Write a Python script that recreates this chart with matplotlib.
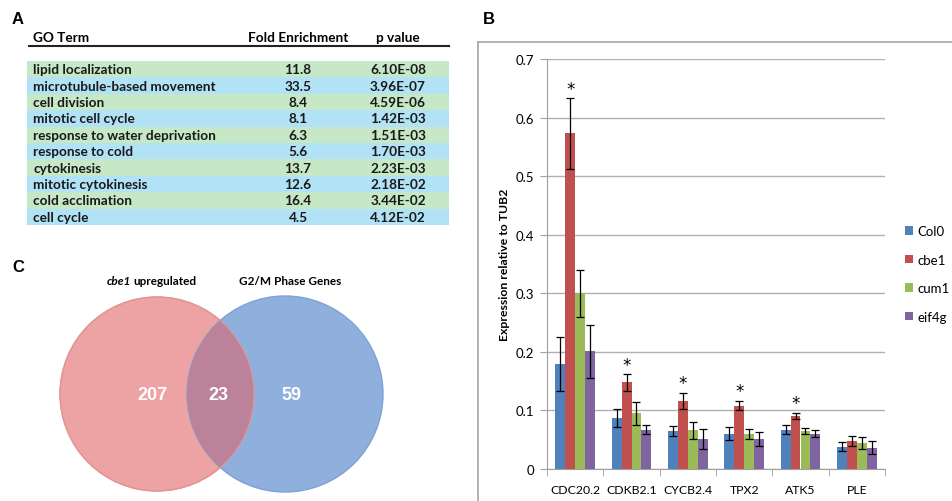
import matplotlib
matplotlib.use("Agg")
import matplotlib.pyplot as plt
from matplotlib.patches import Circle, Rectangle
import numpy as np

# ---- dados ----
go_terms = ['lipid localization', 'microtubule-based movement', 'cell division',
            'mitotic cell cycle', 'response to water deprivation', 'response to cold',
            'cytokinesis', 'mitotic cytokinesis', 'cold acclimation', 'cell cycle']
fold_enrichment = [11.8, 33.5, 8.4, 8.1, 6.3, 5.6, 13.7, 12.6, 16.4, 4.5]
p_values = ['6.10E-08', '3.96E-07', '4.59E-06', '1.42E-03', '1.51E-03',
            '1.70E-03', '2.23E-03', '2.18E-02', '3.44E-02', '4.12E-02']

genes = ['CDC20.2', 'CDKB2.1', 'CYCB2.4', 'TPX2', 'ATK5', 'PLE']
linhas = ['Col0', 'cbe1', 'cum1', 'eif4g']
col0 = [0.179, 0.087, 0.065, 0.060, 0.067, 0.038]
cbe1 = [0.573, 0.148, 0.116, 0.108, 0.091, 0.048]
cum1 = [0.300, 0.095, 0.066, 0.060, 0.065, 0.045]
eif4g = [0.201, 0.067, 0.051, 0.052, 0.060, 0.036]
col0_err = [0.046, 0.015, 0.008, 0.011, 0.008, 0.008]
cbe1_err = [0.060, 0.014, 0.014, 0.008, 0.005, 0.008]
cum1_err = [0.040, 0.020, 0.015, 0.008, 0.005, 0.010]
eif4g_err = [0.045, 0.008, 0.017, 0.012, 0.006, 0.011]
significativo = [True, True, True, True, True, False]

venn_labels = ['cbe1', 'upregulated', 'G2/M Phase Genes']
venn_counts = [207, 23, 59]

cores = ['#4F81BD', '#C0504D', '#9BBB59', '#8064A2']

fig = plt.figure(figsize=(9.52, 5.02), dpi=100)

# eixo de fundo em pixels (tabela, venn, moldura)
bg = fig.add_axes([0, 0, 1, 1])
bg.set_xlim(0, 952)
bg.set_ylim(502, 0)
bg.axis('off')

fonte = 'Lato'

# ---- A: tabela ----
bg.text(12, 19, 'A', fontsize=12, fontweight='bold', family='Liberation Sans', va='center')
bg.text(33, 38, 'GO Term', fontsize=9.8, fontweight='bold', family=fonte, va='center')
bg.text(298, 38, 'Fold Enrichment', fontsize=9.8, fontweight='bold', family=fonte, va='center', ha='center')
bg.text(398, 38, 'p value', fontsize=9.8, fontweight='bold', family=fonte, va='center', ha='center')
bg.plot([29, 449], [47, 47], color='#222222', lw=1.5)
row_h = 16.4
for i, (termo, fe, pv) in enumerate(zip(go_terms, fold_enrichment, p_values)):
    y0 = 62 + i * row_h
    cor = '#C6E8C6' if i % 2 == 0 else '#B2E2F6'
    bg.add_patch(Rectangle((27, y0), 422, row_h, color=cor, lw=0))
    yc = y0 + row_h / 2
    bg.text(33, yc, termo, fontsize=9.8, fontweight='bold', family=fonte, va='center', color='#1a1a1a')
    bg.text(298, yc, f'{fe}', fontsize=9.8, fontweight='bold', family=fonte, va='center', ha='center', color='#1a1a1a')
    bg.text(398, yc, pv, fontsize=9.8, fontweight='bold', family=fonte, va='center', ha='center', color='#1a1a1a')

# ---- C: venn ----
bg.text(12, 268, 'C', fontsize=12, fontweight='bold', family='Liberation Sans', va='center')
c_esq = Circle((157, 395), 97, facecolor='#EDA3A3', edgecolor='#E59494', lw=1)
c_dir = Circle((285, 395), 98, facecolor='#8FB0DD', edgecolor='#7EA2D6', lw=1)
bg.add_patch(c_esq)
bg.add_patch(c_dir)
inter = Circle((285, 395), 98, facecolor='#BC8299', edgecolor='none')
bg.add_patch(inter)
inter.set_clip_path(c_esq)
bg.add_patch(Circle((157, 395), 97, facecolor='none', edgecolor='#E59494', lw=0.8))
bg.text(131, 282, venn_labels[0], fontsize=8.5, fontweight='bold', style='italic', family=fonte, ha='right', va='center')
bg.text(133, 282, venn_labels[1], fontsize=8.5, fontweight='bold', family=fonte, ha='left', va='center')
bg.text(290, 282, venn_labels[2], fontsize=8.5, fontweight='bold', family=fonte, ha='center', va='center')
for x, n in zip([152, 218, 291], venn_counts):
    bg.text(x, 396, str(n), fontsize=13, fontweight='bold', family='Liberation Sans',
            color='white', ha='center', va='center')

# ---- B: barras ----
bg.text(483, 19, 'B', fontsize=12, fontweight='bold', family='Liberation Sans', va='center')
bg.plot([478, 952], [43, 43], color='#A6A6A6', lw=1.2)
bg.plot([478, 478], [43, 502], color='#A6A6A6', lw=1.2)

ax = fig.add_axes([547 / 952, (502 - 470) / 502, 338 / 952, 410 / 502])
x = np.arange(len(genes))
largura = 0.176
valores = [col0, cbe1, cum1, eif4g]
erros = [col0_err, cbe1_err, cum1_err, eif4g_err]
for k, (vals, errs) in enumerate(zip(valores, erros)):
    pos = x + (k - 1.5) * largura
    ax.bar(pos, vals, largura, color=cores[k], label=linhas[k], zorder=3)
    ax.errorbar(pos, vals, yerr=errs, fmt='none', ecolor='black', elinewidth=0.9,
                capsize=3, capthick=0.9, zorder=4)

for i, sig in enumerate(significativo):
    if sig:
        ax.text(x[i] - 0.5 * largura, cbe1[i] + cbe1_err[i] + 0.001, '*', ha='center', va='bottom',
                fontsize=12, family='DejaVu Sans')

ax.set_xlim(-0.5, len(genes) - 0.5)
ax.set_ylim(0, 0.7)
ax.set_yticks(np.arange(0, 0.71, 0.1))
ax.set_yticklabels(['0', '0.1', '0.2', '0.3', '0.4', '0.5', '0.6', '0.7'], family=fonte, fontsize=9.5)
ax.set_xticks(x)
ax.set_xticklabels(genes, family=fonte, fontsize=8.8)
ax.set_xticks(np.arange(-0.5, len(genes), 1), minor=True)
ax.tick_params(axis='x', which='major', length=0, pad=11)
ax.tick_params(axis='x', which='minor', length=5, color='#A0A0A0', direction='out')
ax.tick_params(axis='y', length=5, color='#A0A0A0', direction='out', pad=4)
ax.grid(axis='y', color='#B0B0B0', lw=1, zorder=0)
ax.set_axisbelow(True)
for s in ['top', 'right']:
    ax.spines[s].set_visible(False)
ax.spines['left'].set_color('#A0A0A0')
ax.spines['bottom'].set_color('#A0A0A0')
ax.set_ylabel('Expression relative to TUB2', fontsize=8.8, fontweight='bold', family=fonte, labelpad=4)

ax.legend(loc='center left', bbox_to_anchor=((905 - 547) / 338, 0.476), frameon=False,
          borderaxespad=0, borderpad=0,
          handlelength=0.6, handleheight=0.6, handletextpad=0.35, labelspacing=1.25,
          prop={'family': fonte, 'size': 9.5})

fig.savefig('out.png', dpi=100)
